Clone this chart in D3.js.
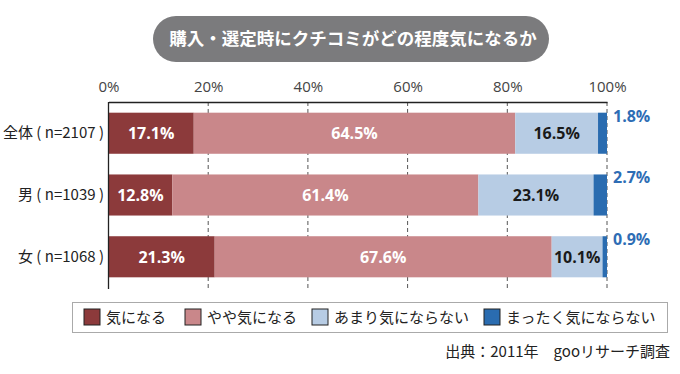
<!DOCTYPE html>
<html>
<head>
<meta charset="utf-8">
<script src="https://cdn.jsdelivr.net/npm/d3@7"></script>
<style>
  body { margin: 0; background: #fff; }
  svg { display: block; font-family: "Noto Sans CJK JP", "Noto Sans", sans-serif; }
</style>
</head>
<body>
<svg width="680" height="374"></svg>
<script>
const categories = ['全体 ( n=2107 )', '男 ( n=1039 )', '女 ( n=1068 )'];
const seriesNames = ['気になる', 'やや気になる', 'あまり気にならない', 'まったく気にならない'];
const kininaru = [17.1, 12.8, 21.3];
const yayaKininaru = [64.5, 61.4, 67.6];
const amari = [16.5, 23.1, 10.1];
const mattaku = [1.8, 2.7, 0.9];
const ticks = [0, 20, 40, 60, 80, 100];

const colors = ['#8c3a3b', '#c9878a', '#b7cce4', '#2a6cb0'];
const labelColors = ['#fff', '#fff', '#1a1a1a', '#2e6db5'];

const svg = d3.select('svg');

const rows = categories.map((c, i) => ({
  cat: c,
  vals: [kininaru[i], yayaKininaru[i], amari[i], mattaku[i]]
}));

const x = d3.scaleLinear().domain([0, 100]).range([108.5, 607]);
const y = d3.scaleBand().domain(categories).range([102, 288]).paddingInner(0.335).paddingOuter(0.173);

// title pill
const title = svg.append('g');
title.append('rect')
  .attr('x', 153).attr('y', 16).attr('width', 396).attr('height', 46)
  .attr('rx', 23).attr('fill', '#7b7b7d');
title.append('text')
  .attr('x', 353).attr('y', 45)
  .attr('text-anchor', 'middle')
  .attr('fill', '#fff').attr('font-size', 17.5).attr('font-weight', 'bold')
  .text('購入・選定時にクチコミがどの程度気になるか');

// gridlines
svg.append('g').selectAll('line')
  .data(ticks.slice(1))
  .join('line')
  .attr('x1', d => x(d)).attr('x2', d => x(d))
  .attr('y1', 102).attr('y2', 289)
  .attr('stroke', '#555').attr('stroke-width', 1)
  .attr('stroke-dasharray', '4,3');

// top axis
const axis = svg.append('g')
  .attr('transform', 'translate(0,102)')
  .call(d3.axisTop(x).tickValues(ticks).tickFormat(d => d + '%').tickSize(0).tickPadding(10));
axis.select('.domain').attr('stroke', '#222').attr('stroke-width', 1.3);
axis.selectAll('text')
  .attr('font-size', 15).attr('fill', '#444')
  .attr('font-family', '"Open Sans", "Noto Sans", sans-serif');

// bars
const rowG = svg.append('g').selectAll('g')
  .data(rows)
  .join('g')
  .attr('transform', d => `translate(0,${y(d.cat)})`);

rowG.each(function(d) {
  const g = d3.select(this);
  let acc = 0;
  const segs = d.vals.map((v, k) => {
    const s = { k, v, x0: acc, x1: acc + v };
    acc += v;
    return s;
  });
  // last segment ends at 100
  segs[3].x1 = 100;
  segs[3].x0 = 100 - segs[3].v;
  segs[2].x1 = segs[3].x0;

  g.selectAll('rect')
    .data(segs)
    .join('rect')
    .attr('x', s => x(s.x0))
    .attr('width', s => x(s.x1) - x(s.x0))
    .attr('y', 0)
    .attr('height', y.bandwidth())
    .attr('fill', s => colors[s.k]);

  g.selectAll('text')
    .data(segs)
    .join('text')
    .attr('x', s => s.k === 3 ? x(100) + 6 : x((s.x0 + s.x1) / 2))
    .attr('y', s => s.k === 3 ? 9 : y.bandwidth() / 2 + 6)
    .attr('text-anchor', s => s.k === 3 ? 'start' : 'middle')
    .attr('fill', s => labelColors[s.k])
    .attr('font-size', 16).attr('font-weight', 'bold')
    .attr('font-family', '"Open Sans", "Noto Sans", sans-serif')
    .text(s => s.v.toFixed(1) + '%');
});

// category labels
svg.append('g').selectAll('text')
  .data(categories)
  .join('text')
  .attr('x', 104)
  .attr('y', d => y(d) + y.bandwidth() / 2 + 5)
  .attr('text-anchor', 'end')
  .attr('font-size', 15).attr('fill', '#222')
  .text(d => d);

// y axis line
svg.append('line')
  .attr('x1', x(0)).attr('x2', x(0))
  .attr('y1', 102).attr('y2', 289)
  .attr('stroke', '#222').attr('stroke-width', 1.3);

// legend
const legend = svg.append('g');
legend.append('rect')
  .attr('x', 72.5).attr('y', 302.5).attr('width', 595).attr('height', 30)
  .attr('fill', '#fff').attr('stroke', '#aaa');
const legendX = [84, 185, 312, 484];
const li = legend.selectAll('g.item')
  .data(seriesNames)
  .join('g')
  .attr('class', 'item')
  .attr('transform', (d, i) => `translate(${legendX[i]},309)`);
li.append('rect')
  .attr('width', 16).attr('height', 16)
  .attr('fill', (d, i) => colors[i])
  .attr('stroke', '#222').attr('stroke-width', 1);
li.append('text')
  .attr('x', 22).attr('y', 14)
  .attr('font-size', 15).attr('fill', '#222')
  .text(d => d);

// source
svg.append('text')
  .attr('x', 670).attr('y', 357)
  .attr('text-anchor', 'end')
  .attr('font-size', 15).attr('fill', '#222')
  .text('出典：2011年　gooリサーチ調査');
</script>
</body>
</html>
